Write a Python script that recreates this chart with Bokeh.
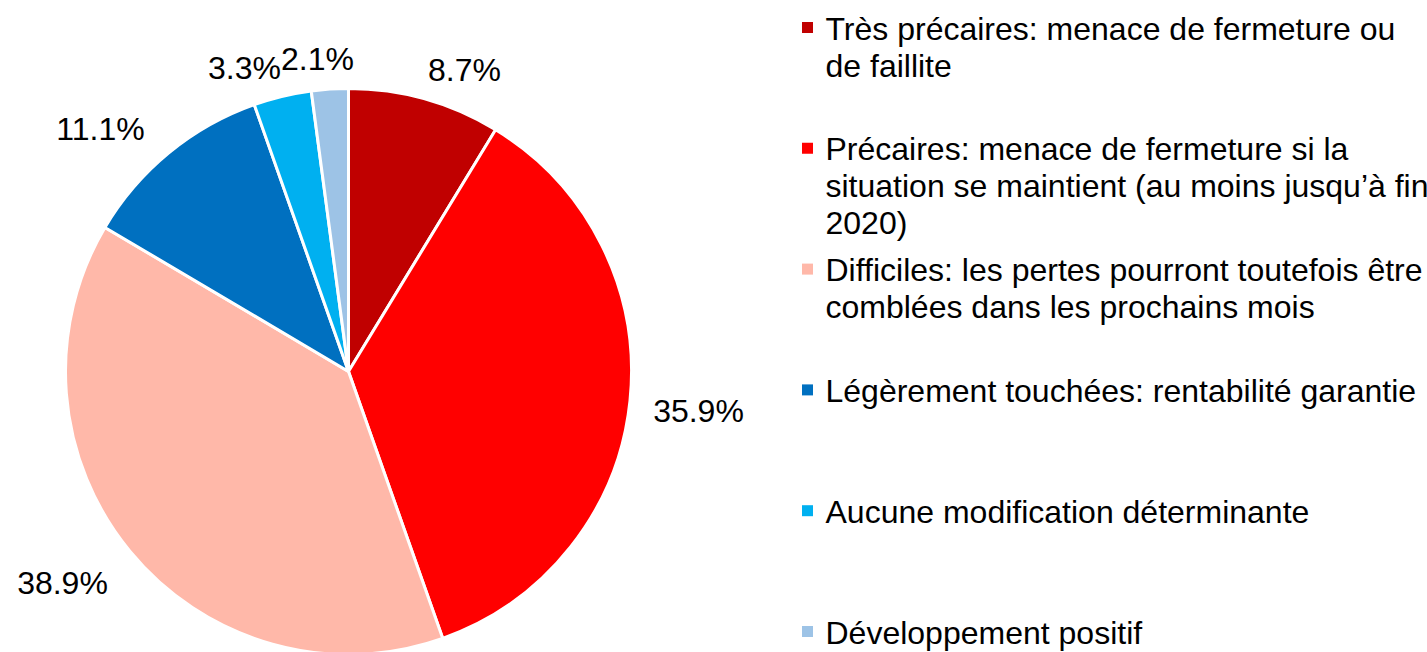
import numpy as np
from bokeh.plotting import figure
from bokeh.models import Range1d, ColumnDataSource
from bokeh.core.properties import value
from bokeh.embed import file_html
from bokeh.resources import INLINE

# ---- data ----
categories = [
    "Très précaires: menace de fermeture ou\nde faillite",
    "Précaires: menace de fermeture si la\nsituation se maintient (au moins jusqu’à fin\n2020)",
    "Difficiles: les pertes pourront toutefois être\ncomblées dans les prochains mois",
    "Légèrement touchées: rentabilité garantie",
    "Aucune modification déterminante",
    "Développement positif",
]
shares = [8.7, 35.9, 38.9, 11.1, 3.3, 2.1]
colors = ["#C00000", "#FF0000", "#FFB8A9", "#0070C0", "#00B0F0", "#9DC3E6"]
pct_labels = ["8.7%", "35.9%", "38.9%", "11.1%", "3.3%", "2.1%"]

# ---- layout (page pixel coordinates; y flipped to page) ----
W, H = 1427, 652
def py(y):
    return H - y

FONT = value("Liberation Sans")
FS = "32px"

p = figure(width=W, height=H, output_backend="svg", toolbar_location=None,
           x_range=Range1d(0, W), y_range=Range1d(0, H),
           min_border=0, outline_line_color=None)
p.axis.visible = False
p.grid.visible = False
p.background_fill_color = "white"
p.border_fill_color = "white"

# pie wedges, clockwise from 12 o'clock
vals = np.array(shares)
cum = np.concatenate([[0], np.cumsum(vals)]) / vals.sum()
start = np.pi / 2 - cum[1:] * 2 * np.pi
end = np.pi / 2 - cum[:-1] * 2 * np.pi
cx, cy, r = 348, 371, 283
src = ColumnDataSource(dict(start=start, end=end, color=colors))
p.wedge(x=cx, y=py(cy), radius=r, start_angle="start", end_angle="end",
        direction="anticlock", fill_color="color", line_color="white",
        line_width=3, source=src)

# percentage labels (outside end)
lab_x = [464, 698, 62, 100, 244, 317]
lab_y = [69, 410, 582, 128, 67, 58]
p.text(x=lab_x, y=[py(v) for v in lab_y], text=pct_labels,
       text_font=FONT, text_font_size=FS, text_color="#000000",
       text_align="center", text_baseline="middle")

# legend
leg_y = [27 + i * 120.8 for i in range(len(categories))]
p.rect(x=[807] * len(categories), y=[py(v) for v in leg_y], width=11, height=11,
       fill_color=colors, line_color=None)
p.text(x=[825] * len(categories), y=[py(v - 17) for v in leg_y], text=categories,
       text_font=FONT, text_font_size=FS, text_color="#000000",
       text_align="left", text_baseline="top", text_line_height=1.03)

open("out.html", "w").write(file_html(p, INLINE))
